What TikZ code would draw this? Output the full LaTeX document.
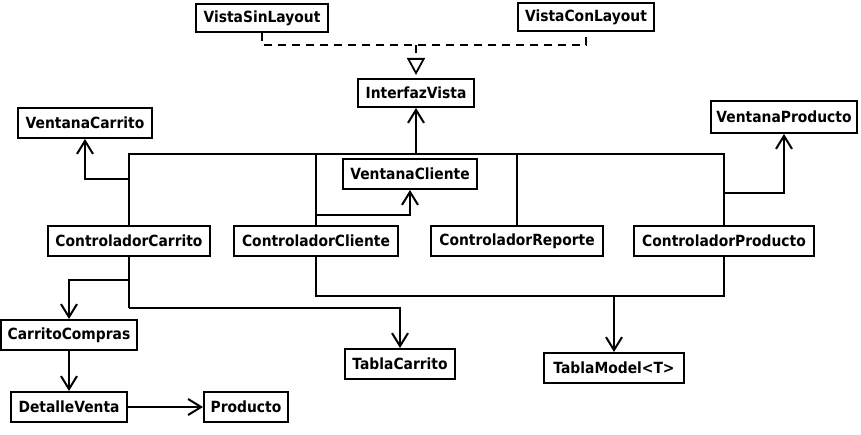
\documentclass[tikz,border=0pt]{standalone}
\usepackage{fontspec}
\setmainfont{DejaVu Sans}[FakeStretch=0.9]
\usetikzlibrary{arrows.meta}
\begin{document}
\begin{tikzpicture}[x=1pt,y=-1pt,
  cls/.style={draw, line width=2pt, inner sep=0pt, fill=white,
    font=\bfseries\fontsize{15.4}{18}\selectfont},
  wh/.style 2 args={minimum width=#1pt, minimum height=#2pt},
  link/.style={line width=2pt},
  arr/.style={link, -{Straight Barb[length=13pt,width=16pt]}},
  realz/.style={line width=2pt, dash pattern=on 8pt off 6pt, -{Triangle[open,length=17pt,width=18pt,line width=1.8pt]}},
  dsh/.style={line width=2pt, dash pattern=on 8pt off 6pt}]
\useasboundingbox (0,0) rectangle (861,435);
\fill[white] (0,0) rectangle (861,435);
% nodes
\node[cls,wh={132}{28}] (vsl) at (262,18) {VistaSinLayout};
\node[cls,wh={136}{28}] (vcl) at (586,17) {VistaConLayout};
\node[cls,wh={116}{28}] (iv) at (416,93) {InterfazVista};
\node[cls,wh={134}{30}] (vcar) at (85,123) {VentanaCarrito};
\node[cls,wh={146}{32}] (vprod) at (784,117) {VentanaProducto};
\node[cls,wh={134}{30}] (vcli) at (410,174) {VentanaCliente};
\node[cls,wh={162}{30}] (ccar) at (129,241) {ControladorCarrito};
\node[cls,wh={164}{30}] (ccli) at (316,241) {ControladorCliente};
\node[cls,wh={172}{30}] (crep) at (517,241) {ControladorReporte};
\node[cls,wh={180}{30}] (cprod) at (724,241) {ControladorProducto};
\node[cls,wh={136}{30}] (ccomp) at (69,335) {CarritoCompras};
\node[cls,wh={110}{30}] (tcar) at (400,364) {TablaCarrito};
\node[cls,wh={140}{30}] (tmod) at (614,368) {TablaModel<T>};
\node[cls,wh={116}{30}] (dven) at (69,407) {DetalleVenta};
\node[cls,wh={84}{30}] (prod) at (246,407) {Producto};
% realization
\draw[dsh] (vsl.south) |- (vcl.south |- 0,45) -- (vcl.south);
\draw[realz, shorten >=3pt] (iv.north |- 0,45) -- (iv.north);
% bus to InterfazVista
\draw[link] (ccar.north) |- (cprod.north |- 0,154) -- (cprod.north);
\draw[link] (ccli.north) -- (ccli.north |- 0,154);
\draw[link] (crep.north) -- (crep.north |- 0,154);
\draw[arr] (iv.south |- 0,154) -- (iv.south);
% windows
\draw[arr] (ccar.north |- 0,179) -| (vcar.south);
\draw[arr] (ccli.north |- 0,215) -| (vcli.south);
\draw[arr] (cprod.north |- 0,193) -| (vprod.south);
% lower
\draw[link] (ccar.south) -- (ccar.south |- 0,308);
\draw[arr] (ccar.south |- 0,308) -| (tcar.north);
\draw[arr] (ccar.south |- 0,280) -| (ccomp.north);
\draw[link] (ccli.south) |- (cprod.south |- 0,296) -- (cprod.south);
\draw[arr] (tmod.north |- 0,296) -- (tmod.north);
\draw[arr] (ccomp.south) -- (dven.north);
\draw[arr] (dven.east) -- (prod.west);
\end{tikzpicture}
\end{document}
